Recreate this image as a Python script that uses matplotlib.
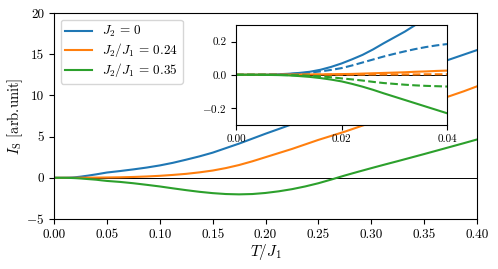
import matplotlib
matplotlib.use("Agg")
import matplotlib.pyplot as plt

plt.rcParams['font.family'] = 'serif'
plt.rcParams['font.serif'] = ['cmr10', 'DejaVu Serif']
plt.rcParams['mathtext.fontset'] = 'cm'
plt.rcParams['axes.formatter.use_mathtext'] = True
plt.rcParams['axes.unicode_minus'] = True

# temperature grid T/J1
T = [0.0, 0.002, 0.004, 0.006, 0.008, 0.010, 0.012, 0.014, 0.016, 0.018, 0.020,
     0.022, 0.024, 0.026, 0.028, 0.030, 0.032, 0.034, 0.036, 0.038, 0.040,
     0.045, 0.05, 0.0625, 0.075, 0.0875, 0.10, 0.1125, 0.125, 0.1375, 0.15,
     0.1625, 0.175, 0.1875, 0.20, 0.2125, 0.225, 0.2375, 0.25, 0.2625, 0.275,
     0.2875, 0.30, 0.3125, 0.325, 0.3375, 0.35, 0.3625, 0.375, 0.3875, 0.40]

I_j0 = [0.0, 0.0, 0.0, 0.001, 0.003, 0.006, 0.011, 0.018, 0.03, 0.047, 0.068,
        0.093, 0.12, 0.153, 0.19, 0.225, 0.26, 0.3, 0.34, 0.38, 0.42,
        0.53, 0.64, 0.82, 1.02, 1.24, 1.5, 1.82, 2.2, 2.6, 3.05,
        3.6, 4.15, 4.75, 5.35, 5.92, 6.5, 7.2, 7.9, 8.6, 9.3,
        10.0, 10.7, 11.35, 12.0, 12.65, 13.3, 13.85, 14.4, 14.95, 15.5]
I_j024 = [0.0, 0.0, 0.0, 0.0, 0.0, 0.001, 0.001, 0.002, 0.002, 0.003, 0.004,
          0.005, 0.007, 0.009, 0.011, 0.013, 0.015, 0.018, 0.02, 0.023, 0.025,
          0.032, 0.04, 0.06, 0.1, 0.16, 0.24, 0.35, 0.48, 0.66, 0.88,
          1.18, 1.55, 2.0, 2.5, 3.0, 3.5, 4.05, 4.6, 5.1, 5.6,
          6.15, 6.7, 7.25, 7.8, 8.35, 8.9, 9.42, 9.95, 10.5, 11.1]
I_j035 = [0.0, 0.0, 0.0, -0.001, -0.002, -0.004, -0.008, -0.013, -0.02, -0.029, -0.04,
          -0.055, -0.072, -0.091, -0.112, -0.132, -0.152, -0.172, -0.192, -0.212, -0.232,
          -0.31, -0.38, -0.5, -0.66, -0.85, -1.05, -1.28, -1.5, -1.7, -1.86,
          -1.97, -2.01, -1.97, -1.84, -1.64, -1.38, -1.05, -0.66, -0.2, 0.28,
          0.73, 1.17, 1.6, 2.02, 2.45, 2.88, 3.32, 3.76, 4.2, 4.65]

# dashed curves shown only in the inset
T_in = [0.0, 0.002, 0.004, 0.006, 0.008, 0.010, 0.012, 0.014, 0.016, 0.018, 0.020,
        0.022, 0.024, 0.026, 0.028, 0.030, 0.032, 0.034, 0.036, 0.038, 0.040]
D_j0 = [0.0, 0.0, 0.0, 0.001, 0.002, 0.004, 0.008, 0.013, 0.02, 0.029, 0.04,
        0.056, 0.074, 0.092, 0.11, 0.126, 0.141, 0.155, 0.167, 0.177, 0.185]
D_j024 = [0.0, 0.0, 0.0, 0.0, 0.0, 0.0, 0.0, 0.001, 0.001, 0.001, 0.001,
          0.001, 0.001, 0.002, 0.002, 0.002, 0.002, 0.002, 0.003, 0.003, 0.003]
D_j035 = [0.0, 0.0, 0.0, 0.0, -0.001, -0.002, -0.003, -0.006, -0.01, -0.015, -0.022,
          -0.028, -0.035, -0.043, -0.05, -0.055, -0.06, -0.064, -0.067, -0.069, -0.071]

labels = [r'$J_2\,=\,0$', r'$J_2/J_1\,=\,0.24$', r'$J_2/J_1\,=\,0.35$']
colors = ['#1f77b4', '#ff7f0e', '#2ca02c']

fig = plt.figure(figsize=(4.98, 2.69), dpi=100)
ax = fig.add_axes([54/498, 1-219/269, 423/498, 206/269])

for y, lab, c in zip([I_j0, I_j024, I_j035], labels, colors):
    ax.plot(T, y, color=c, lw=1.5, label=lab)
ax.axhline(0, color='black', lw=0.7, zorder=1)
ax.set_xlim(0, 0.4)
ax.set_ylim(-5, 20)
ax.set_xticks([0.0, 0.05, 0.10, 0.15, 0.20, 0.25, 0.30, 0.35, 0.40])
ax.set_xticklabels(['0.00', '0.05', '0.10', '0.15', '0.20', '0.25', '0.30', '0.35', '0.40'])
ax.set_yticks([-5, 0, 5, 10, 15, 20])
ax.set_yticklabels([r'$-5$', '0', '5', '10', '15', '20'])
ax.tick_params(labelsize=9.5)
ax.set_xlabel(r'$T/J_1$', fontsize=11, labelpad=1)
ax.set_ylabel(r'$I_{\rm S}$ [arb.unit]', fontsize=10.5, labelpad=1)
ax.legend(loc='upper left', fontsize=9.5, handlelength=2.0, borderaxespad=0.5,
          labelspacing=0.15, borderpad=0.35)

ins = fig.add_axes([236/498, 1-124.5/269, 211/498, 99.5/269])
for y, d, c in zip([I_j0, I_j024, I_j035], [D_j0, D_j024, D_j035], colors):
    ins.plot(T, y, color=c, lw=1.5)
    ins.plot(T_in, d, color=c, lw=1.5, ls='--')
ins.axhline(0, color='black', lw=0.7, zorder=1)
ins.set_xlim(0, 0.04)
ins.set_ylim(-0.3, 0.3)
ins.set_xticks([0.0, 0.02, 0.04])
ins.set_xticklabels(['0.00', '0.02', '0.04'])
ins.set_yticks([-0.2, 0.0, 0.2])
ins.set_yticklabels([r'$-0.2$', '0.0', '0.2'])
ins.tick_params(labelsize=8)

fig.savefig('out.png', dpi=100)
